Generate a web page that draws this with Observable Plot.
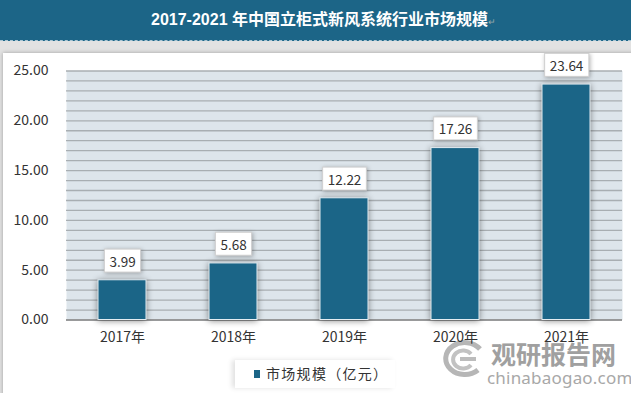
<!DOCTYPE html>
<html><head><meta charset="utf-8">
<script src="https://cdn.jsdelivr.net/npm/d3@7"></script>
<script src="https://cdn.jsdelivr.net/npm/@observablehq/plot@0.6"></script>
<style>
body{margin:0;background:#fff;}
#wrap{position:relative;width:631px;height:393px;overflow:hidden;background:#e2e2e2;font-family:"Noto Sans CJK SC","Noto Sans",sans-serif;}
#title{position:absolute;left:0;top:0;width:631px;height:41px;background:#1c6587;border-bottom:1px dashed #a9c6d4;color:#fff;font:bold 16px "Liberation Sans","Noto Sans CJK SC",sans-serif;text-align:center;line-height:40px;padding-left:16px;box-sizing:border-box;}
#title .ret{font-size:9px;color:#9aa;font-weight:normal;}
#panel{position:absolute;left:3px;top:53px;width:660px;height:360px;background:#fff;box-shadow:0 0 4px rgba(0,0,0,0.3);}
#chart{position:absolute;left:0;top:53px;z-index:3;}
#wm{position:absolute;left:440px;top:336px;width:190px;height:56px;z-index:2;}
#wm .big{position:absolute;left:51px;top:0px;font:bold 25px "Noto Sans CJK SC",sans-serif;white-space:nowrap;color:#a0a0a0;line-height:34px;}
#wm .small{position:absolute;left:47px;top:31px;font:17px/22px "Noto Sans","DejaVu Sans",sans-serif;white-space:nowrap;color:#a8a8a8;letter-spacing:0.2px;}
#wm svg{position:absolute;left:0px;top:4px;}
#legend{position:absolute;left:235px;top:360px;width:160px;height:28px;background:#fff;box-shadow:-3px 0 5px rgba(0,0,0,0.12);z-index:4;}
#legend .sw{position:absolute;left:19px;top:10px;width:6px;height:8px;background:#1b6587;}
#legend .tx{position:absolute;left:31px;top:3px;font:14px "Noto Sans CJK SC",sans-serif;color:#333;letter-spacing:1.3px;white-space:nowrap;}
</style></head>
<body>
<div id="wrap">
  <div id="title">2017-2021 年中国立柜式新风系统行业市场规模<span class="ret">↵</span></div>
  <div id="panel"></div>
  <div id="wm">
    <svg width="46" height="38" viewBox="0 0 46 38"><path d="M40 9 A19 16 0 1 0 38 30" fill="none" stroke="#b6b6b6" stroke-width="5"/><path d="M31 14 A10 9 0 1 0 31 25" fill="none" stroke="#c2c2c2" stroke-width="4"/><path d="M20 19 L36 19" stroke="#bcbcbc" stroke-width="4"/></svg>
    <div class="big">观研报告网</div>
    <div class="small">chinabaogao.com</div>
  </div>
  <div id="chart"></div>
  <div id="legend"><div class="sw"></div><div class="tx">市场规模（亿元）</div></div>
</div>
<script>
const years = ["2017年","2018年","2019年","2020年","2021年"];
const values = [3.99, 5.68, 12.22, 17.26, 23.64];
const yTicks = [0, 5, 10, 15, 20, 25];
const gridLines = d3.range(0, 26, 1);

const data = years.map((y, i) => ({year: y, value: values[i]}));

const chart = Plot.plot({
  width: 631,
  height: 340,
  marginLeft: 66,
  marginRight: 9,
  marginTop: 17.5,
  marginBottom: 73.5,
  style: {fontFamily: '"Noto Sans CJK SC","Noto Sans",sans-serif', fontSize: "14px", color: "#333", background: "transparent"},
  x: {domain: years, paddingInner: 0.57, paddingOuter: 0.285, label: null, tickSize: 0, tickPadding: 12},
  y: {domain: [0, 25], ticks: yTicks, tickFormat: d => d.toFixed(2), label: null, tickSize: 0, tickPadding: 18},
  marks: [
    Plot.frame({fill: "#dde5eb", stroke: null}),
    Plot.ruleY(gridLines, {stroke: "#a8aeb2", strokeWidth: 1.3}),
    Plot.ruleY([0], {stroke: "#8c8c8c", strokeWidth: 1.6}),
    Plot.barY(data, {x: "year", y: "value", fill: "#1b6587", stroke: "#e4edf2", strokeWidth: 1}),
    Plot.text(data, {x: "year", y: "value", text: d => d.value.toFixed(2), dy: -18, fontSize: 13.5, fill: "#333"})
  ]
});
document.getElementById("chart").appendChild(chart);

// bar shadows
d3.select(chart).selectAll('g[aria-label="bar"]').style("filter", "drop-shadow(0px 1px 3px rgba(0,0,0,0.45))");

// label boxes behind value labels
const textG = chart.querySelector('g[aria-label="text"]');
if (textG) {
  const svgRect = chart.getBoundingClientRect();
  const boxG = d3.create("svg:g").style("filter", "drop-shadow(1px 1px 2px rgba(0,0,0,0.3))");
  textG.querySelectorAll("text").forEach(t => {
    const r = t.getBoundingClientRect();
    const cx = r.left - svgRect.left + r.width / 2;
    const cy = r.top - svgRect.top + r.height / 2;
    const w = r.width + 10, h = 23;
    boxG.append("rect").attr("x", cx - w / 2).attr("y", cy - h / 2).attr("width", w).attr("height", h)
      .attr("fill", "#fff").attr("stroke", "#cfcfcf").attr("stroke-width", 1);
  });
  textG.parentNode.insertBefore(boxG.node(), textG);
}
</script>
</body></html>
